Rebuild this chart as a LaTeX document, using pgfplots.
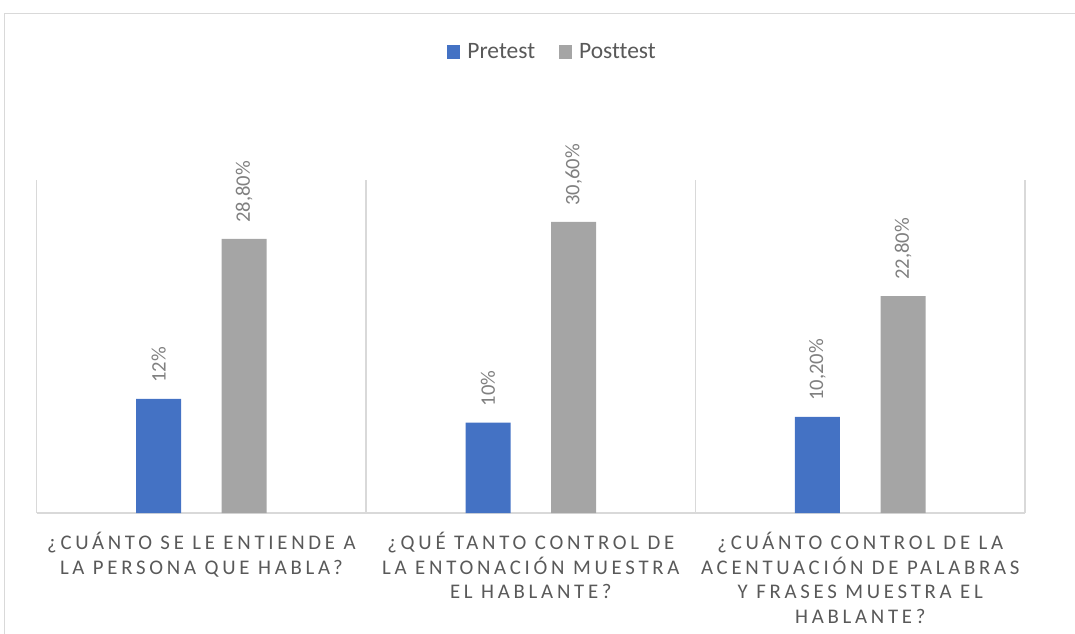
\documentclass[border=0pt]{standalone}
\usepackage{fontspec}
\setmainfont{Carlito}[Ligatures={NoCommon}]
\usepackage{pgfplots}
\pgfplotsset{compat=1.18}
\definecolor{cblue}{HTML}{4472C4}
\definecolor{cgray}{HTML}{A5A5A5}
\definecolor{ctext}{HTML}{595959}
\definecolor{clabel}{HTML}{808080}
\definecolor{cgrid}{HTML}{D9D9D9}
\begin{document}
\begin{tikzpicture}
\useasboundingbox (0pt,0pt) rectangle (1075pt,633pt);
\draw[cgrid, line width=1.5pt] (4.3pt,-10pt) -- (4.3pt,619.5pt) -- (1090pt,619.5pt);
\begin{axis}[
  at={(36.7pt,120pt)}, anchor=south west,
  scale only axis, width=988.3pt, height=333pt,
  ybar=40.6pt, bar width=45pt,
  xmin=-0.5, xmax=2.5, ymin=0, ymax=35,
  axis x line*=bottom, axis y line=none,
  x axis line style={-, draw=cgrid, line width=1.3pt},
  xtick={0,1,2},
  xticklabels={{¿CUÁNTO SE LE ENTIENDE A\\LA PERSONA QUE HABLA?},
               {¿QUÉ TANTO CONTROL DE\\LA ENTONACIÓN MUESTRA\\EL HABLANTE?},
               {¿CUÁNTO CONTROL DE LA\\ACENTUACIÓN DE PALABRAS\\Y FRASES MUESTRA EL\\HABLANTE?}},
  xticklabel style={align=center, text=ctext, anchor=north, yshift=-16pt,
     font=\fontsize{20.8}{24.5}\selectfont\addfontfeature{LetterSpace=18}},
  major tick length=0pt,
  extra x ticks={-0.5,0.5,1.5,2.5},
  extra x tick labels={},
  extra x tick style={grid=major, major grid style={draw=cgrid, line width=1.3pt}},
  ytick=\empty,
  point meta=explicit symbolic,
  nodes near coords={\pgfplotspointmeta},
  nodes near coords style={rotate=90, anchor=west, inner xsep=16pt, inner ysep=0pt,
     text=clabel, font=\fontsize{20.6}{24}\selectfont},
  legend style={at={(0.522,1.384)}, anchor=center, draw=none, fill=none,
     legend columns=2, font=\fontsize{23.5}{28}\selectfont, text=ctext,
     /tikz/every even column/.append style={column sep=22pt},
     /tikz/every odd column/.append style={column sep=5pt}},
  legend image code/.code={\fill[#1] (0pt,-7pt) rectangle (13pt,7pt);},
]
\addplot[fill=cblue, draw=none] coordinates {(0,12) [12\%] (1,9.5) [10\%] (2,10.1) [{10,20\%}]};
\addplot[fill=cgray, draw=none] coordinates {(0,28.8) [{28,80\%}] (1,30.6) [{30,60\%}] (2,22.8) [{22,80\%}]};
\legend{Pretest, Posttest}
\end{axis}
\end{tikzpicture}
\end{document}
